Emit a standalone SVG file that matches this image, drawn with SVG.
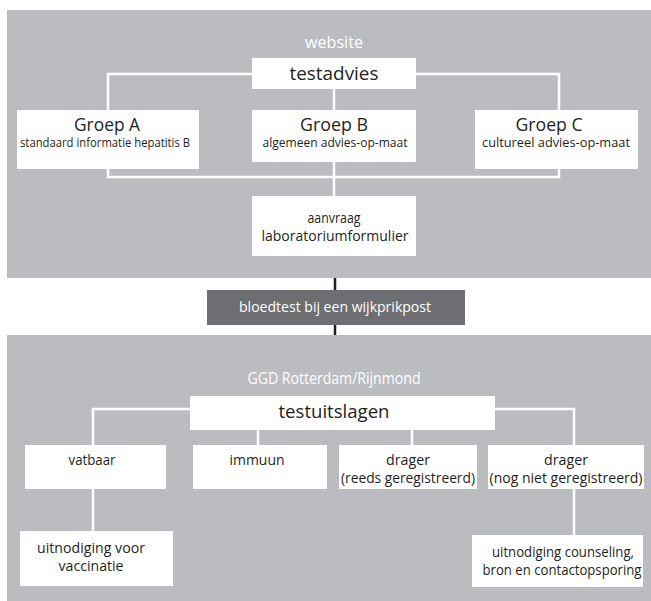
<svg xmlns="http://www.w3.org/2000/svg" width="651" height="601" viewBox="0 0 651 601">
<style>
.panel{fill:#bbbcbf}
.box{fill:#ffffff}
.dark{fill:#6d6e71}
.wl{stroke:#ffffff;stroke-width:2.5;fill:none}
.bl{stroke:#231f20;stroke-width:2.5;fill:none}
text{font-family:"Open Sans","Noto Sans","DejaVu Sans",sans-serif;fill:#231f20;text-anchor:middle}
.hw{fill:#ffffff;font-size:17px}
.big{font-size:19px}
.ttl{font-size:18px}
.sub{font-size:12px}
.med{font-size:14px}
.wt{fill:#ffffff;font-size:15px}
</style>
<rect class="panel" x="7" y="10" width="644" height="268"/>
<rect class="panel" x="7" y="335" width="644" height="266"/>
<g id="connectors">
<path class="wl" d="M108,110 V74 H559 V110 M334,89 V110 M108,169 V177 H559 V169 M334,162 V196"/>
<path class="bl" d="M335,278 V290 M335,325 V335"/>
<path class="wl" d="M93,445 V409 H574 V445 M258,430 V445 M412,430 V445 M93,489 V531 M574,489 V535"/>
</g>
<g id="website"><text class="hw" x="334" y="48" textLength="58" lengthAdjust="spacingAndGlyphs">website</text></g>
<g id="testadvies"><rect class="box" x="252" y="58" width="164" height="31"/><text class="big" x="334" y="80" textLength="89" lengthAdjust="spacingAndGlyphs">testadvies</text></g>
<g id="groepA"><rect class="box" x="17" y="110" width="182" height="59"/><text class="ttl" x="107" y="131" textLength="66" lengthAdjust="spacingAndGlyphs">Groep A</text><text class="sub" x="105" y="147" textLength="170" lengthAdjust="spacingAndGlyphs">standaard informatie hepatitis B</text></g>
<g id="groepB"><rect class="box" x="252" y="110" width="164" height="52"/><text class="ttl" x="334" y="131" textLength="68" lengthAdjust="spacingAndGlyphs">Groep B</text><text class="sub" x="335" y="147" textLength="145" lengthAdjust="spacingAndGlyphs">algemeen advies-op-maat</text></g>
<g id="groepC"><rect class="box" x="475" y="110" width="163" height="59"/><text class="ttl" x="549" y="131" textLength="67" lengthAdjust="spacingAndGlyphs">Groep C</text><text class="sub" x="556" y="147" textLength="148" lengthAdjust="spacingAndGlyphs">cultureel advies-op-maat</text></g>
<g id="aanvraag"><rect class="box" x="252" y="196" width="164" height="60"/><text class="med" x="334" y="223" textLength="53" lengthAdjust="spacingAndGlyphs">aanvraag</text><text class="med" x="335" y="241" textLength="147" lengthAdjust="spacingAndGlyphs">laboratoriumformulier</text></g>
<g id="bloedtest"><rect class="dark" x="207" y="290" width="258" height="35"/><text class="wt" x="335" y="312" textLength="192" lengthAdjust="spacingAndGlyphs">bloedtest bij een wijkprikpost</text></g>
<g id="ggd"><text class="hw" x="334" y="384" textLength="173" lengthAdjust="spacingAndGlyphs">GGD Rotterdam/Rijnmond</text></g>
<g id="testuitslagen"><rect class="box" x="190" y="396" width="305" height="34"/><text class="big" x="334" y="418" textLength="111" lengthAdjust="spacingAndGlyphs">testuitslagen</text></g>
<g id="vatbaar"><rect class="box" x="25" y="445" width="141" height="44"/><text class="med" x="92" y="465" textLength="47" lengthAdjust="spacingAndGlyphs">vatbaar</text></g>
<g id="immuun"><rect class="box" x="193" y="445" width="134" height="44"/><text class="med" x="257" y="465" textLength="55" lengthAdjust="spacingAndGlyphs">immuun</text></g>
<g id="drager1"><rect class="box" x="339" y="445" width="138" height="44"/><text class="med" x="408" y="465" textLength="44" lengthAdjust="spacingAndGlyphs">drager</text><text class="med" x="408" y="483" textLength="134" lengthAdjust="spacingAndGlyphs">(reeds geregistreerd)</text></g>
<g id="drager2"><rect class="box" x="488" y="445" width="156" height="44"/><text class="med" x="566" y="465" textLength="44" lengthAdjust="spacingAndGlyphs">drager</text><text class="med" x="566" y="483" textLength="153" lengthAdjust="spacingAndGlyphs">(nog niet geregistreerd)</text></g>
<g id="vaccinatie"><rect class="box" x="20" y="531" width="153" height="55"/><text class="med" x="91" y="553" textLength="108" lengthAdjust="spacingAndGlyphs">uitnodiging voor</text><text class="med" x="91" y="571" textLength="65" lengthAdjust="spacingAndGlyphs">vaccinatie</text></g>
<g id="counseling"><rect class="box" x="472" y="535" width="171" height="52"/><text class="med" x="563" y="557" textLength="142" lengthAdjust="spacingAndGlyphs">uitnodiging counseling,</text><text class="med" x="562" y="575" textLength="159" lengthAdjust="spacingAndGlyphs">bron en contactopsporing</text></g>
</svg>
